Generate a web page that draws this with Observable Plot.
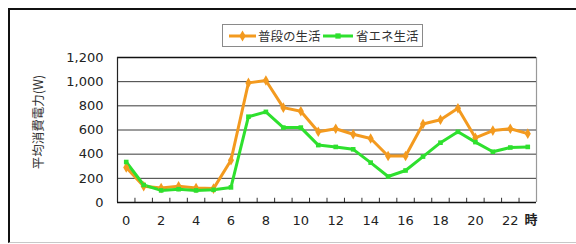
<!DOCTYPE html>
<html><head><meta charset="utf-8">
<script src="https://cdn.jsdelivr.net/npm/d3@7"></script>
<script src="https://cdn.jsdelivr.net/npm/@observablehq/plot@0.6"></script>
<style>
body{margin:0;background:#fff;}
#wrap{position:relative;width:576px;height:244px;overflow:hidden;background:#fff;}
#frame{position:absolute;left:8px;top:8px;width:640px;height:232px;border-left:2px solid #111;border-top:2px solid #111;border-bottom:1px solid #c8c8c8;}
#chart{position:absolute;left:0;top:0;}
#legend{position:absolute;left:222px;top:24px;width:199px;height:21px;border:1px solid #8a8a8a;background:#fff;}
#legend svg{display:block;}
</style>
</head><body>
<div id="wrap">
  <div id="frame"></div>
  <div id="chart"></div>
  <div id="legend"></div>
</div>
<script>
const hours = [0,1,2,3,4,5,6,7,8,9,10,11,12,13,14,15,16,17,18,19,20,21,22,23];
const normalLife = [290,135,120,135,120,115,350,990,1010,785,755,585,610,565,530,385,385,650,685,780,535,595,610,570];
const ecoLife = [335,145,100,110,100,105,125,710,750,620,620,475,460,440,330,215,265,380,495,585,500,420,455,460];
const seriesNames = ["普段の生活","省エネ生活"];
const yTicks = [0,200,400,600,800,1000,1200];
const xTicks = [0,2,4,6,8,10,12,14,16,18,20,22];
const yLabel = "平均消費電力(W)";
const xUnit = "時";
const colors = ["#f39a1f","#2ee02e"];

const rows = [
  ...hours.map((h,i)=>({hour:h, value:normalLife[i], s:seriesNames[0]})),
  ...hours.map((h,i)=>({hour:h, value:ecoLife[i], s:seriesNames[1]}))
];
const xDomain = [hours[0]-0.5, hours[hours.length-1]+0.5];
const bounds = hours.slice(0,-1).map(h=>h+0.5);
const font = "'DejaVu Sans', sans-serif";

const plot = Plot.plot({
  width: 576, height: 244,
  marginLeft: 117, marginRight: 40, marginTop: 57, marginBottom: 42,
  style: {fontSize: "13px", fontFamily: font, color: "#222", background: "transparent"},
  x: {type: "linear", domain: xDomain},
  y: {domain: [yTicks[0], yTicks[yTicks.length-1]]},
  color: {domain: seriesNames, range: colors},
  marks: [
    Plot.ruleX([xDomain[1]], {stroke: "#999", strokeWidth: 1.2}),
    Plot.ruleY(yTicks.slice(1,-1), {stroke: "#3a3a3a", strokeWidth: 1}),
    Plot.ruleY([yTicks[yTicks.length-1]], {stroke: "#111", strokeWidth: 1.5}),
    Plot.ruleX([xDomain[0]], {stroke: "#222", strokeWidth: 1.2}),
    Plot.ruleX(bounds, {y1: 0, y2: 35, stroke: "#333"}),
    Plot.ruleY([0], {stroke: "#111", strokeWidth: 1.5}),
    Plot.line(rows, {x: "hour", y: "value", z: "s", stroke: "s", strokeWidth: 3}),
    Plot.dot(rows.filter(d=>d.s===seriesNames[0]), {x: "hour", y: "value", fill: "s", symbol: "diamond", r: 3.2}),
    Plot.dot(rows.filter(d=>d.s===seriesNames[1]), {x: "hour", y: "value", fill: "s", symbol: "square", r: 2.6}),
    Plot.axisY({ticks: yTicks, tickFormat: d3.format(","), tickSize: 0, tickPadding: 14, label: null, fill: "#222"}),
    Plot.axisX({ticks: xTicks, tickFormat: d=>String(d), tickSize: 0, tickPadding: 13, label: null, fill: "#222"}),
    Plot.text([xUnit], {frameAnchor: "bottom-right", dy: 21, dx: 1, fontSize: 13, fontWeight: 600, fontFamily: "'Noto Sans CJK JP'", fill: "#222"}),
    Plot.text([yLabel], {frameAnchor: "left", textAnchor: "middle", rotate: -90, dx: -79, dy: -8, fontSize: 12.5, fontFamily: "'Noto Sans CJK JP'", fill: "#333"})
  ]
});
document.getElementById("chart").appendChild(plot);

// legend
const lg = d3.select("#legend").append("svg").attr("width",199).attr("height",21);
const items = [{x0:6,x1:33,tx:35},{x0:100,x1:130,tx:133}];
seriesNames.forEach((name,i)=>{
  const it = items[i];
  lg.append("line").attr("x1",it.x0).attr("x2",it.x1).attr("y1",11).attr("y2",11).attr("stroke",colors[i]).attr("stroke-width",3);
  const sym = d3.symbol().type(i===0?d3.symbolDiamond:d3.symbolSquare).size(i===0?36:28);
  lg.append("path").attr("d",sym()).attr("transform",`translate(${(it.x0+it.x1)/2},11)`).attr("fill",colors[i]);
  lg.append("text").attr("x",it.tx).attr("y",15.5).attr("font-family","'Noto Sans CJK JP'").attr("font-size",12.5).attr("fill","#333").text(name);
});
</script>
</body></html>
